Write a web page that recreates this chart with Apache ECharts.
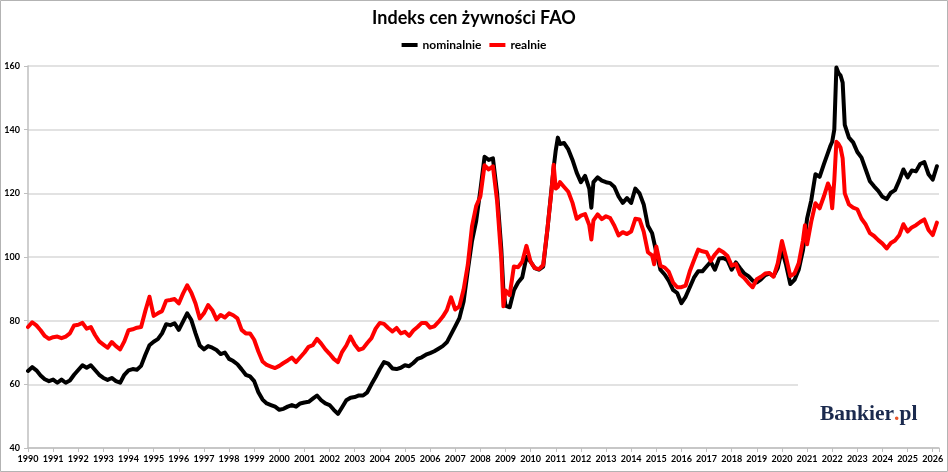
<!DOCTYPE html>
<html>
<head>
<meta charset="utf-8">
<script src="https://cdn.jsdelivr.net/npm/echarts@6/dist/echarts.min.js"></script>
<style>
html, body { margin: 0; padding: 0; background: #fff; }
#chart { width: 948px; height: 472px; }
</style>
</head>
<body>
<div id="chart"></div>
<script>
// sample months (every 2nd month, plus a few extra months around sharp turns)
const months = [
  '1990-01','1990-03','1990-05','1990-07','1990-09','1990-11',
  '1991-01','1991-03','1991-05','1991-07','1991-09','1991-11',
  '1992-01','1992-03','1992-05','1992-07','1992-09','1992-11',
  '1993-01','1993-03','1993-05','1993-07','1993-09','1993-11',
  '1994-01','1994-03','1994-05','1994-07','1994-09','1994-11',
  '1995-01','1995-03','1995-05','1995-07','1995-09','1995-11',
  '1996-01','1996-03','1996-05','1996-07','1996-09','1996-11',
  '1997-01','1997-03','1997-05','1997-07','1997-09','1997-11',
  '1998-01','1998-03','1998-05','1998-07','1998-09','1998-11',
  '1999-01','1999-03','1999-05','1999-07','1999-09','1999-11',
  '2000-01','2000-03','2000-05','2000-07','2000-09','2000-11',
  '2001-01','2001-03','2001-05','2001-07','2001-09','2001-11',
  '2002-01','2002-03','2002-05','2002-07','2002-09','2002-11',
  '2003-01','2003-03','2003-05','2003-07','2003-09','2003-11',
  '2004-01','2004-03','2004-05','2004-07','2004-09','2004-11',
  '2005-01','2005-03','2005-05','2005-07','2005-09','2005-11',
  '2006-01','2006-03','2006-05','2006-07','2006-09','2006-11',
  '2007-01','2007-03','2007-05','2007-07','2007-09','2007-11',
  '2008-01','2008-03','2008-05','2008-07','2008-09','2008-11','2008-12',
  '2009-01','2009-03','2009-05','2009-07','2009-09','2009-11',
  '2010-01','2010-03','2010-05','2010-07','2010-09','2010-11','2010-12',
  '2011-01','2011-02','2011-03','2011-05','2011-07','2011-09','2011-11',
  '2012-01','2012-03','2012-05','2012-06','2012-07','2012-09','2012-11',
  '2013-01','2013-03','2013-05','2013-07','2013-09','2013-11',
  '2014-01','2014-03','2014-05','2014-07','2014-09','2014-11','2014-12',
  '2015-01','2015-03','2015-05','2015-07','2015-09','2015-11',
  '2016-01','2016-03','2016-05','2016-07','2016-09','2016-11',
  '2017-01','2017-03','2017-05','2017-07','2017-09','2017-11',
  '2018-01','2018-03','2018-05','2018-07','2018-09','2018-11',
  '2019-01','2019-03','2019-05','2019-07','2019-09','2019-11',
  '2020-01','2020-03','2020-05','2020-07','2020-09','2020-11','2020-12',
  '2021-01','2021-03','2021-05','2021-07','2021-09','2021-11','2021-12',
  '2022-01','2022-02','2022-03','2022-04','2022-05','2022-06','2022-07','2022-09','2022-11',
  '2023-01','2023-03','2023-05','2023-07','2023-09','2023-11',
  '2024-01','2024-03','2024-05','2024-07','2024-09','2024-11',
  '2025-01','2025-03','2025-05','2025-07','2025-09','2025-11',
  '2026-01','2026-03'
];

const nominal = [
  64.2, 65.4, 64.4, 62.8, 61.6, 61,
  61.5, 60.5, 61.5, 60.5, 61.2, 63,
  64.5, 66, 65.2, 66, 64.5, 63,
  62, 61.4, 62, 61, 60.5, 63,
  64.4, 64.8, 64.6, 65.8, 69.2, 72.3,
  73.4, 74.2, 76, 78.9, 78.6, 79.2,
  77.1, 79.7, 82.3, 80.2, 76, 72.2,
  71, 72, 71.5, 70.8, 69.5, 70,
  68, 67.3, 66.3, 64.7, 63, 62.5,
  61, 57.5, 55.2, 54, 53.5, 53,
  52, 52.3, 53, 53.5, 53, 54,
  54.3, 54.5, 55.5, 56.5, 55, 54,
  53.5, 52, 50.7, 52.8, 55, 55.8,
  56, 56.5, 56.5, 57.5, 60, 62.3,
  64.8, 67, 66.5, 65, 64.8, 65.2,
  66, 65.7, 66.7, 68, 68.5, 69.3,
  69.8, 70.4, 71.2, 72, 73.2, 75.7,
  78.2, 80.8, 86, 95.8, 105, 111.3,
  121, 131.5, 130.5, 131, 120, 102.5, 89.5,
  84.7, 84.2, 89.5, 92, 93.6, 100,
  98.5, 96.5, 96, 97, 108.5, 121.5, 128,
  133.5, 137.5, 135.5, 135.8, 133.8, 130.5, 126.5,
  123.5, 125.5, 121.5, 115.5, 123.5, 125, 124,
  123.5, 123.2, 122, 119, 117, 118.5,
  117, 121.5, 120, 116.5, 109.8, 107.5, 104.5,
  101.5, 96, 94.5, 92.5, 89.7, 88.7,
  85.5, 87.5, 90.5, 93.5, 95.5, 95.5,
  97, 98.5, 96, 99.5, 99.7, 99,
  96, 98.3, 96.5, 94.8, 94, 92.6,
  92, 93, 94.3, 94.8, 94, 96.5,
  102.3, 97.5, 91.5, 92.8, 96, 102, 106.5,
  112, 117.8, 126, 125.2, 129.1, 132.8, 134.7,
  136.2, 140, 159.5, 157.8, 157, 154.8, 141.5, 137.5, 136,
  133, 131.2, 127.5, 123.8, 122.2, 120.8,
  118.9, 118.2, 120.2, 121, 124, 127.5,
  125, 127.2, 126.9, 129.2, 129.8, 126,
  124.3, 128.5
];

const real = [
  78, 79.5, 78.5, 77, 75.2, 74.3,
  74.8, 75, 74.5, 75, 76, 78.5,
  78.7, 79.3, 77.5, 78, 75.5, 73.5,
  72.5, 71.5, 73.3, 72, 71, 73.5,
  77, 77.3, 77.8, 78, 83, 87.5,
  81.5, 82.3, 83, 86.3, 86.5, 86.8,
  85.4, 88.5, 91.1, 88.8, 85.4, 80.7,
  82.3, 84.9, 83.3, 80.4, 81.8, 81,
  82.3, 81.7, 80.7, 77.1, 76, 76,
  74, 70.3, 67.2, 66.1, 65.6, 65.1,
  65.8, 66.7, 67.5, 68.4, 67, 68.5,
  70, 71.8, 72.3, 74.3, 72.8, 71,
  69.6, 68, 67, 70.2, 72.2, 75,
  72.5, 70.8, 71.3, 73, 74.5, 77.5,
  79.3, 79, 77.7, 76.6, 77.7, 76,
  76.5, 75.2, 76.9, 78, 79.3, 79.3,
  77.8, 78.2, 79.6, 81.2, 83.3, 87.3,
  83.5, 84.5, 89.8, 97.5, 109.6, 116,
  119, 128.8, 127.5, 128.5, 117.5, 99.4, 84.5,
  89.5, 88, 97, 96.8, 98.5, 103.5,
  98.5, 96.5, 96.2, 97.5, 108.7, 121, 129,
  121.5, 122, 123.5, 122, 120.5, 117, 112,
  113, 113.5, 110, 105.5, 111.5, 113.4, 111.9,
  112.8, 112.2, 109.8, 106.8, 107.8, 107.2,
  108, 112, 111.8, 108, 101.5, 100.5, 97.7,
  103.3, 97.2, 96.7, 95.3, 92, 90.5,
  90.5, 91, 95.5, 99, 102.3, 101.8,
  101.5, 98.8, 100.8, 102.3, 101.5, 100.3,
  97.3, 97.8, 94.5, 93.4, 91.8, 90.5,
  93, 93.8, 94.8, 95, 93.8, 98,
  105, 99.8, 94, 94.8, 98, 105, 110,
  104, 111.1, 116.9, 115.3, 119, 123.1, 121.6,
  115.3, 124, 136.2, 135.5, 134.3, 131, 120, 116.5, 115.5,
  115, 112, 110.2, 107.5, 106.6, 105.3,
  104.2, 102.7, 104.4, 105.2, 106.8, 110.3,
  108, 109.3, 110, 111, 111.8, 108.5,
  106.9, 110.8
];

const seriesNames = ['nominalnie', 'realnie'];
const yRange = [40, 160, 20];     // min, max, step
const xRange = [1990, 2026.25];   // axis runs a little past the 2026 tick

if (nominal.length !== months.length || real.length !== months.length) {
  throw new Error('length mismatch ' + months.length + ' ' + nominal.length + ' ' + real.length);
}

function toYear(m) {
  return Number(m.slice(0, 4)) + (Number(m.slice(5, 7)) - 1) / 12;
}
const xs = months.map(toYear);
const pairs = vals => vals.map((v, i) => [xs[i], v]);

const gridGray = '#d9d9d9';
const axisGray = '#bfbfbf';
const font = 'Lato';

const option = {
  animation: false,
  backgroundColor: '#fff',
  title: {
    text: 'Indeks cen żywności FAO',
    left: 'center',
    top: 9,
    padding: 0,
    textStyle: { fontFamily: font, fontSize: 18, fontWeight: 'bold', color: '#000' }
  },
  legend: {
    data: seriesNames,
    top: 39,
    left: 'center',
    padding: 0,
    icon: 'rect',
    itemWidth: 16,
    itemHeight: 4,
    itemGap: 8,
    textStyle: { fontFamily: font, fontSize: 12, fontWeight: 'bold', color: '#000' }
  },
  grid: { left: 28, right: 9, top: 66, bottom: 24, containLabel: false },
  xAxis: {
    type: 'value',
    min: xRange[0],
    max: xRange[1],
    interval: 1,
    axisLine: { show: true, lineStyle: { color: axisGray, width: 1.5 } },
    axisTick: { show: true, length: 4, lineStyle: { color: axisGray } },
    splitLine: { show: false },
    axisLabel: {
      margin: 7,
      fontFamily: font,
      fontSize: 9,
      fontWeight: 'bold',
      color: '#000',
      formatter: function (v) { return v % 1 === 0 ? String(v) : ''; }
    }
  },
  yAxis: {
    type: 'value',
    min: yRange[0],
    max: yRange[1],
    interval: yRange[2],
    axisLine: { show: true, lineStyle: { color: axisGray, width: 1.5 } },
    axisTick: { show: true, length: 4, lineStyle: { color: axisGray } },
    splitLine: { show: true, lineStyle: { color: gridGray, width: 1.5 } },
    axisLabel: { margin: 8, fontFamily: font, fontSize: 9, fontWeight: 'bold', color: '#000' }
  },
  series: [
    {
      name: seriesNames[0],
      type: 'line',
      data: pairs(nominal),
      showSymbol: false,
      symbol: 'none',
      color: '#000',
      lineStyle: { color: '#000', width: 4, join: 'round', cap: 'round' },
      z: 3
    },
    {
      name: seriesNames[1],
      type: 'line',
      data: pairs(real),
      showSymbol: false,
      symbol: 'none',
      color: '#ff0000',
      lineStyle: { color: '#ff0000', width: 4, join: 'round', cap: 'round' },
      z: 4
    }
  ],
  graphic: [
    {
      // logo box covers the grid in the corner
      type: 'rect',
      z: 50,
      shape: { x: 798, y: 370, width: 146, height: 76 },
      style: { fill: '#fff' }
    },
    {
      type: 'text',
      z: 51,
      x: 820,
      y: 414,
      style: {
        text: '{a|Bankier}{b|.}{a|pl}',
        verticalAlign: 'middle',
        rich: {
          a: { fontFamily: 'Liberation Serif', fontSize: 21.5, fontWeight: 'bold', fill: '#1b2a4e', color: '#1b2a4e' },
          b: { fontFamily: 'Liberation Serif', fontSize: 21.5, fontWeight: 'bold', fill: '#e8562a', color: '#e8562a' }
        }
      }
    },
    {
      type: 'rect',
      z: 60,
      shape: { x: 0.5, y: 0.5, width: 947, height: 471 },
      style: { fill: 'none', stroke: '#b3b3b3', lineWidth: 1 }
    }
  ]
};

const chart = echarts.init(document.getElementById('chart'));
chart.setOption(option);
</script>
</body>
</html>
